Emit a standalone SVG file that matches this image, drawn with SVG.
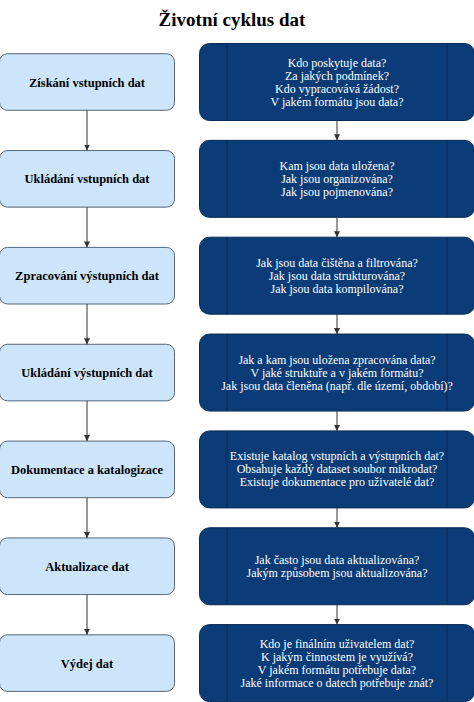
<svg xmlns="http://www.w3.org/2000/svg" width="474" height="702" viewBox="0 0 474 702">
<defs>
<style>
.title{font-family:"Liberation Serif","Times New Roman",serif;font-size:19px;font-weight:bold;fill:#000;text-anchor:middle}
.step rect{fill:#cce5fa;stroke:#56667a;stroke-width:1}
.step text{font-family:"Liberation Serif","Times New Roman",serif;font-size:12.5px;font-weight:bold;fill:#000;text-anchor:middle}
.q rect{fill:#0b3c77;stroke:#082b55;stroke-width:1}
.q line{stroke:#082b55;stroke-width:1}
.q text{font-family:"Liberation Serif","Times New Roman",serif;font-size:12px;fill:#fff;text-anchor:middle}
.conn line{stroke:#333;stroke-width:1;fill:none}
</style>
<marker id="arr" viewBox="0 0 10 10" refX="10" refY="5" markerWidth="6" markerHeight="6" markerUnits="userSpaceOnUse" orient="auto">
<path d="M0,0 L10,5 L0,10 z" fill="#333"/>
</marker>
</defs>
<rect x="0" y="0" width="474" height="702" fill="#fff"/>
<text class="title" x="232" y="26">Životní cyklus dat</text>

<g id="step0" class="step"><rect x="-0.5" y="53.7" width="175" height="56.6" rx="8"/><text x="87" y="86.5">Získání vstupních dat</text></g>
<g id="step1" class="step"><rect x="-0.5" y="150.55" width="175" height="56.6" rx="8"/><text x="87" y="183.35">Ukládání vstupních dat</text></g>
<g id="step2" class="step"><rect x="-0.5" y="247.4" width="175" height="56.6" rx="8"/><text x="87" y="280.2">Zpracování výstupních dat</text></g>
<g id="step3" class="step"><rect x="-0.5" y="344.25" width="175" height="56.6" rx="8"/><text x="87" y="377.05">Ukládání výstupních dat</text></g>
<g id="step4" class="step"><rect x="-0.5" y="441.1" width="175" height="56.6" rx="8"/><text x="87" y="473.9">Dokumentace a katalogizace</text></g>
<g id="step5" class="step"><rect x="-0.5" y="537.95" width="175" height="56.6" rx="8"/><text x="87" y="570.75">Aktualizace dat</text></g>
<g id="step6" class="step"><rect x="-0.5" y="634.8" width="175" height="56.6" rx="8"/><text x="87" y="667.6">Výdej dat</text></g>

<g id="q0" class="q"><rect x="199.5" y="43.5" width="275" height="77" rx="10"/><line x1="227" y1="43.5" x2="227" y2="120.5"/><line x1="447" y1="43.5" x2="447" y2="120.5"/>
<text x="337" y="66.5">Kdo poskytuje data?</text><text x="337" y="79.5">Za jakých podmínek?</text><text x="337" y="92.5">Kdo vypracovává žádost?</text><text x="337" y="105.5">V jakém formátu jsou data?</text></g>
<g id="q1" class="q"><rect x="199.5" y="140.35" width="275" height="77" rx="10"/><line x1="227" y1="140.35" x2="227" y2="217.35"/><line x1="447" y1="140.35" x2="447" y2="217.35"/>
<text x="337" y="169.85">Kam jsou data uložena?</text><text x="337" y="182.85">Jak jsou organizována?</text><text x="337" y="195.85">Jak jsou pojmenována?</text></g>
<g id="q2" class="q"><rect x="199.5" y="237.2" width="275" height="77" rx="10"/><line x1="227" y1="237.2" x2="227" y2="314.2"/><line x1="447" y1="237.2" x2="447" y2="314.2"/>
<text x="337" y="266.7">Jak jsou data čištěna a filtrována?</text><text x="337" y="279.7">Jak jsou data strukturována?</text><text x="337" y="292.7">Jak jsou data kompilována?</text></g>
<g id="q3" class="q"><rect x="199.5" y="334.05" width="275" height="77" rx="10"/><line x1="227" y1="334.05" x2="227" y2="411.05"/><line x1="447" y1="334.05" x2="447" y2="411.05"/>
<text x="337" y="363.55">Jak a kam jsou uložena zpracována data?</text><text x="337" y="376.55">V jaké struktuře a v jakém formátu?</text><text x="337" y="389.55">Jak jsou data členěna (např. dle území, období)?</text></g>
<g id="q4" class="q"><rect x="199.5" y="430.9" width="275" height="77" rx="10"/><line x1="227" y1="430.9" x2="227" y2="507.9"/><line x1="447" y1="430.9" x2="447" y2="507.9"/>
<text x="337" y="460.4">Existuje katalog vstupních a výstupních dat?</text><text x="337" y="473.4">Obsahuje každý dataset soubor mikrodat?</text><text x="337" y="486.4">Existuje dokumentace pro uživatelé dat?</text></g>
<g id="q5" class="q"><rect x="199.5" y="527.75" width="275" height="77" rx="10"/><line x1="227" y1="527.75" x2="227" y2="604.75"/><line x1="447" y1="527.75" x2="447" y2="604.75"/>
<text x="337" y="563.75">Jak často jsou data aktualizována?</text><text x="337" y="576.75">Jakým způsobem jsou aktualizována?</text></g>
<g id="q6" class="q"><rect x="199.5" y="624.6" width="275" height="77" rx="10"/><line x1="227" y1="624.6" x2="227" y2="701.6"/><line x1="447" y1="624.6" x2="447" y2="701.6"/>
<text x="337" y="647.6">Kdo je finálním uživatelem dat?</text><text x="337" y="660.6">K jakým činnostem je využívá?</text><text x="337" y="673.6">V jakém formátu potřebuje data?</text><text x="337" y="686.6">Jaké informace o datech potřebuje znát?</text></g>

<g id="connectors" class="conn">
<line x1="87" y1="110.3" x2="87" y2="150.55" marker-end="url(#arr)"/>
<line x1="87" y1="207.15" x2="87" y2="247.4" marker-end="url(#arr)"/>
<line x1="87" y1="304" x2="87" y2="344.25" marker-end="url(#arr)"/>
<line x1="87" y1="400.85" x2="87" y2="441.1" marker-end="url(#arr)"/>
<line x1="87" y1="497.7" x2="87" y2="537.95" marker-end="url(#arr)"/>
<line x1="87" y1="594.55" x2="87" y2="634.8" marker-end="url(#arr)"/>
<line x1="337" y1="120.5" x2="337" y2="140.35" marker-end="url(#arr)"/>
<line x1="337" y1="217.35" x2="337" y2="237.2" marker-end="url(#arr)"/>
<line x1="337" y1="314.2" x2="337" y2="334.05" marker-end="url(#arr)"/>
<line x1="337" y1="411.05" x2="337" y2="430.9" marker-end="url(#arr)"/>
<line x1="337" y1="507.9" x2="337" y2="527.75" marker-end="url(#arr)"/>
<line x1="337" y1="604.75" x2="337" y2="624.6" marker-end="url(#arr)"/>
</g>
</svg>
